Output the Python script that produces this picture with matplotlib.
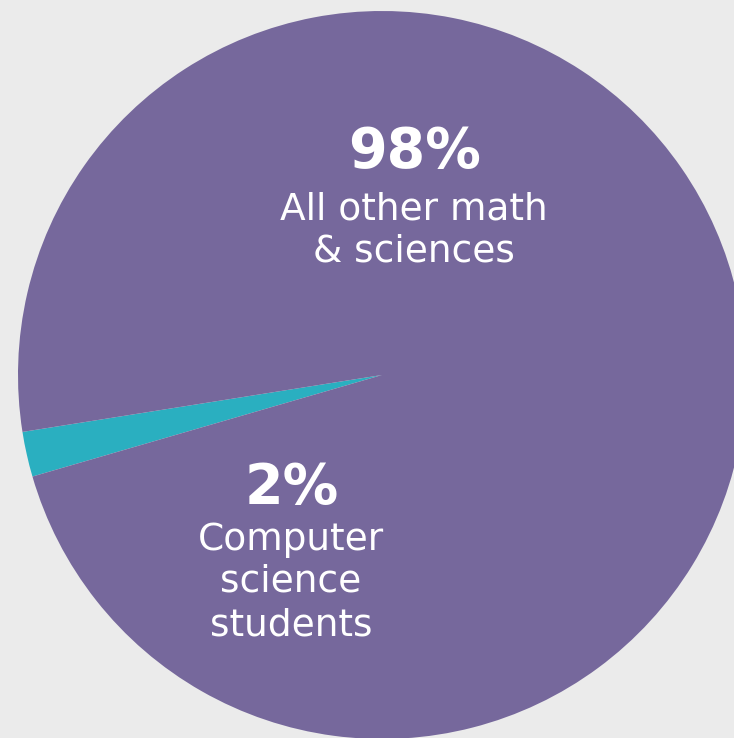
import matplotlib.pyplot as plt

# data
labels = ['Computer science students', 'All other math & sciences']
shares = [2, 98]
colors = ['#2AAFC0', '#76689C']
pct_text = ['2%', '98%']
caption_small = ['Computer', 'science', 'students']
caption_big = ['All other math', '& sciences']

W, H = 734, 738
cx, cy, r = 382, 375, 364   # pie centre / radius in pixels

fig = plt.figure(figsize=(W / 100, H / 100), dpi=100, facecolor='#EBEBEB')
ax = fig.add_axes([0, 0, 1, 1])
ax.set_facecolor('#EBEBEB')

ax.pie(shares, colors=colors, startangle=189.0, counterclock=True,
       radius=1, center=(0, 0), wedgeprops=dict(linewidth=0))

ax.set_xlim(-cx / r, (W - cx) / r)
ax.set_ylim(-(H - cy) / r, cy / r)
ax.set_aspect('auto')
ax.axis('off')


def px(x, y):
    # pixel position (from top-left) -> data coords
    return (x - cx) / r, (cy - y) / r


font = ['DejaVu Sans']

# big slice label
ax.text(*px(415, 167), pct_text[1], color='white', fontsize=40,
        fontweight='bold', family=font, ha='center', va='baseline')
for line, base in zip(caption_big, [220, 262]):
    ax.text(*px(414, base), line, color='white', fontsize=27, family=font,
            ha='center', va='baseline')

# small slice label
ax.text(*px(292, 503), pct_text[0], color='white', fontsize=40,
        fontweight='bold', family=font, ha='center', va='baseline')
for line, base in zip(caption_small, [550, 591, 636]):
    ax.text(*px(291, base), line, color='white', fontsize=27, family=font,
            ha='center', va='baseline')

fig.savefig('out.png', dpi=100, facecolor=fig.get_facecolor())
